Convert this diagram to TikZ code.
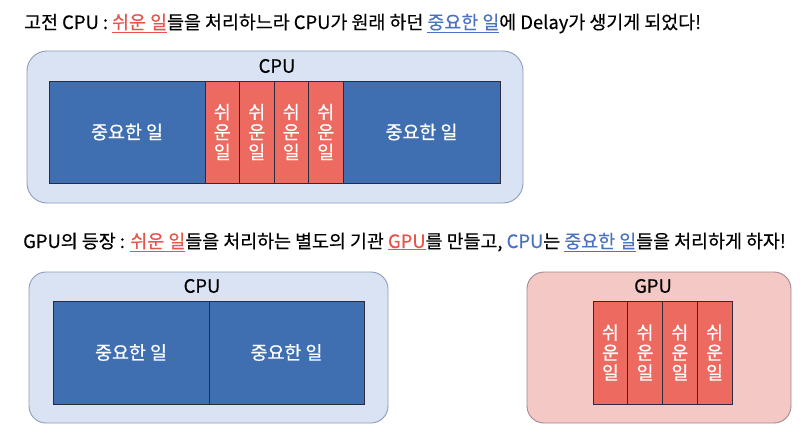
\documentclass[tikz,border=0pt]{standalone}
\usepackage{fontspec}
\setmainfont[FakeBold=0.4]{Noto Sans CJK KR}
\definecolor{blueFill}{HTML}{3F6FB0}
\definecolor{redFill}{HTML}{EC6A5F}
\definecolor{cpuBg}{HTML}{DAE3F3}
\definecolor{cpuBorder}{HTML}{8C9DB8}
\definecolor{gpuBg}{HTML}{F4C8C5}
\definecolor{gpuBorder}{HTML}{A08890}
\definecolor{cellLine}{HTML}{2B2B3B}
\definecolor{txtRed}{HTML}{E8544C}
\definecolor{txtBlue}{HTML}{4A72C0}
\newcommand{\redu}[1]{{\color{txtRed}\underline{#1}}}
\newcommand{\blueu}[1]{{\color{txtBlue}\underline{#1}}}
\begin{document}
\begin{tikzpicture}[x=1pt,y=-1pt,
  basefont/.style={font=\fontsize{18.4}{20}\selectfont},
  headline/.style={basefont,anchor=base west,inner sep=0pt},
  cpubox/.style={draw=cpuBorder,fill=cpuBg,rounded corners=20pt,line width=0.9pt,inner sep=0pt},
  gpubox/.style={draw=gpuBorder,fill=gpuBg,rounded corners=17pt,line width=0.9pt,inner sep=0pt},
  boxlabel/.style={basefont,inner sep=0pt,text=black},
  bigtask/.style={draw=cellLine,fill=blueFill,text=white,minimum height=102pt,inner sep=0pt,line width=0.7pt,basefont},
  smalltask/.style={draw=cellLine,fill=redFill,text=white,minimum width=34.5pt,minimum height=102pt,inner sep=0pt,line width=0.7pt,align=center,font=\fontsize{18.4}{20}\selectfont}
]
\useasboundingbox (0,0) rectangle (800,434);
\fill[white] (0,0) rectangle (800,434);

% headline 1
\node[headline] (h1) at (24,29) {고전 CPU : \redu{쉬운 일}들을 처리하느라 CPU가 원래 하던 \blueu{중요한 일}에 Delay가 생기게 되었다!};

% top CPU
\node[cpubox,minimum width=496pt,minimum height=152pt] (cpuA) at (275,127) {};
\node[boxlabel] (cpuAlabel) at (277,66) {CPU};
\node[bigtask,minimum width=156pt] (a1) at (127,132) {중요한 일};
\node[smalltask] (a2) at (222.25,132) {쉬\\운\\일};
\node[smalltask] (a3) at (256.75,132) {쉬\\운\\일};
\node[smalltask] (a4) at (291.25,132) {쉬\\운\\일};
\node[smalltask] (a5) at (325.75,132) {쉬\\운\\일};
\node[bigtask,minimum width=157pt] (a6) at (421.5,132) {중요한 일};

% headline 2
\node[headline] (h2) at (23,248) {GPU의 등장 : \redu{쉬운 일}들을 처리하는 별도의 기관 \redu{GPU}를 만들고, {\color{txtBlue}CPU}는 \blueu{중요한 일}들을 처리하게 하자!};

% bottom CPU
\node[cpubox,rounded corners=17pt,minimum width=359pt,minimum height=151pt] (cpuB) at (208.5,347.5) {};
\node[boxlabel] (cpuBlabel) at (202,286) {CPU};
\node[bigtask,minimum width=156pt,minimum height=103pt] (b1) at (131,352.5) {중요한 일};
\node[bigtask,minimum width=155pt,minimum height=103pt] (b2) at (286.5,352.5) {중요한 일};

% GPU
\node[gpubox,minimum width=264pt,minimum height=151pt] (gpu) at (659,347.5) {};
\node[boxlabel] (gpulabel) at (653,286) {GPU};
\node[smalltask,minimum width=34.75pt,minimum height=103pt] (g1) at (610.4,352.5) {쉬\\운\\일};
\node[smalltask,minimum width=34.75pt,minimum height=103pt] (g2) at (645.1,352.5) {쉬\\운\\일};
\node[smalltask,minimum width=34.75pt,minimum height=103pt] (g3) at (679.9,352.5) {쉬\\운\\일};
\node[smalltask,minimum width=34.75pt,minimum height=103pt] (g4) at (714.6,352.5) {쉬\\운\\일};
\end{tikzpicture}
\end{document}
